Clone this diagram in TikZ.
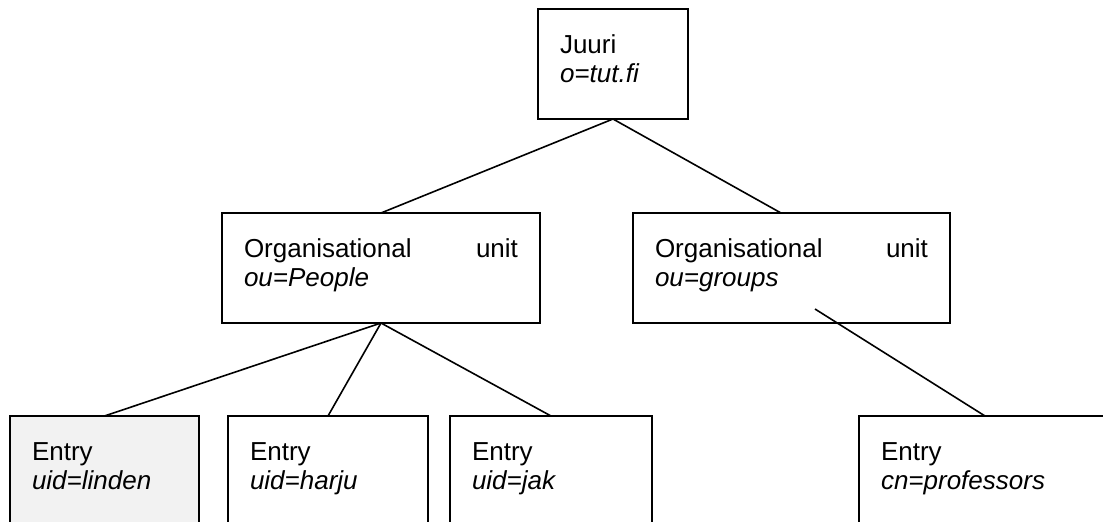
\documentclass[tikz,border=0pt]{standalone}
\usepackage{fontspec}
\setmainfont{Liberation Sans}
\usepackage{tikz}
\tikzset{every node/.style={font=\fontsize{26pt}{29pt}\selectfont},
 ldapbox/.style={draw=black,line width=1.6pt,anchor=north west,align=left,
   inner xsep=22pt,inner ysep=0pt,outer sep=0pt,
   text height=44.5pt,text depth=65.5pt,text width=#1},
 link/.style={draw=black,line width=1.6pt},
 grey/.style={fill=black!5},
 }

\begin{document}
\begin{tikzpicture}[x=1pt,y=-1pt]
        \useasboundingbox (0,0) rectangle (1103,522);
        \clip (0,0) rectangle (1103,522);
        % upper levels
        \node[ldapbox=106pt] (root) at (538,9) {Juuri\\\textit{o=tut.fi}};
        \node[ldapbox=274pt] (people) at (222,213)
            {Organisational\hspace{0pt plus 1filll}unit\\\textit{ou=People}};
        \node[ldapbox=273pt] (groups) at (633,213)
            {Organisational\hspace{0pt plus 1filll}unit\\\textit{ou=groups}};
        % entries
        \node[ldapbox=145pt, grey] (linden) at (10,416) {Entry\\\textit{uid=linden}};
        \node[ldapbox=156pt] (harju) at (228,416) {Entry\\\textit{uid=harju}};
        \node[ldapbox=158pt] (jak) at (450,416) {Entry\\\textit{uid=jak}};
        \node[ldapbox=208pt] (prof) at (859,416) {Entry\\\textit{cn=professors}};
        \coordinate (gstart) at (815,309);
        \draw[link] (root.south) -- (people.north);
        \draw[link] (root.south) -- ([xshift=-10.5pt]groups.north);
        \draw[link] (people.south) -- (linden.north);
        \draw[link] (people.south) -- (harju.north);
        \draw[link] (people.south) -- (jak.north);
        \draw[link] (gstart) -- (prof.north);
    \end{tikzpicture}
\end{document}
